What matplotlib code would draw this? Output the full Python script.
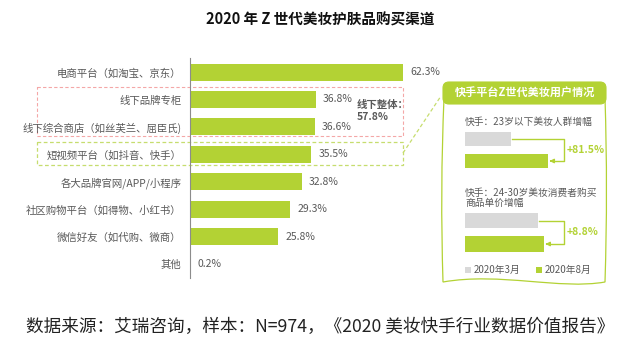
import matplotlib
matplotlib.use("Agg")
import matplotlib.pyplot as plt
from matplotlib.patches import FancyBboxPatch, Rectangle
from matplotlib.path import Path
from matplotlib.patches import PathPatch

plt.rcParams['font.family'] = ['Noto Sans CJK SC', 'DejaVu Sans']

# ---------------- data ----------------
categories = ["电商平台（如淘宝、京东）", "线下品牌专柜", "线下综合商店（如丝芙兰、屈臣氏)",
              "短视频平台（如抖音、快手）", "各大品牌官网/APP/小程序", "社区购物平台（如得物、小红书）",
              "微信好友（如代购、微商）", "其他"]
values = [62.3, 36.8, 36.6, 35.5, 32.8, 29.3, 25.8, 0.2]

panel_titles = ["快手：23岁以下美妆人群增幅", "快手：24-30岁美妆消费者购买\n商品单价增幅"]
panel_growth = [81.5, 8.8]          # % growth Mar -> Aug
panel_series = ["2020年3月", "2020年8月"]

title = "2020 年 Z 世代美妆护肤品购买渠道"
source = "数据来源：艾瑞咨询，样本：N=974，《2020 美妆快手行业数据价值报告》"

GREEN = "#b3d234"
GRAY = "#d9d9d9"
TXT = "#595959"

W, H = 640, 352
fig = plt.figure(figsize=(W / 100, H / 100), dpi=100)


def fx(x):
    return x / W


def fy(y):
    return 1 - y / H


# overlay axes in pixel coords (y downwards)
ov = fig.add_axes([0, 0, 1, 1])
ov.set_xlim(0, W)
ov.set_ylim(H, 0)
ov.axis("off")
ov.set_zorder(0)

# ---------------- main bar chart ----------------
left, top, wpx, hpx = 190, 58.3, 240, 219.4
ax = fig.add_axes([fx(left), fy(top + hpx), fx(wpx), hpx / H])
ax.set_zorder(2)
ax.patch.set_alpha(0)
ypos = list(range(len(categories)))
ax.barh(ypos, values, height=0.62, color=GREEN)
ax.set_xlim(0, wpx / 3.42)
ax.set_ylim(len(categories) - 0.5, -0.5)
ax.set_yticks(ypos)
ax.set_yticklabels(categories, fontsize=7.5, color=TXT)
ax.tick_params(axis="y", length=0, pad=6)
ax.set_xticks([])
for s in ["top", "right", "bottom"]:
    ax.spines[s].set_visible(False)
ax.spines["left"].set_color("#8c8c8c")
ax.spines["left"].set_linewidth(0.8)
for y, v in zip(ypos, values):
    ax.annotate(f"{v}%", (v, y), xytext=(5, 0), textcoords="offset points",
                va="center", ha="left", fontsize=7.5, color=TXT)

# dashed highlight boxes
ov.add_patch(Rectangle((37, 87), 366, 49, fill=False, ec="#f4a7a7", lw=0.8, ls=(0, (3, 2))))
ov.add_patch(Rectangle((37, 142), 366, 23, fill=False, ec="#c6dd6e", lw=0.9, ls=(0, (3, 2))))
ov.text(357, 111, "线下整体：\n57.8%", fontsize=7.5, color=TXT, fontweight="bold",
        va="center", ha="left", linespacing=1.15)
ov.plot([403, 441], [153, 96], color="#c6dd6e", lw=0.9, ls=(0, (3, 2)))

# ---------------- right panel ----------------
# wavy outline
verts = [(444, 98), (440, 190), (443, 282),
         (500, 272), (560, 290), (605, 282),
         (608, 190), (605, 98)]
codes = [Path.MOVETO, Path.CURVE3, Path.CURVE3, Path.CURVE4, Path.CURVE4, Path.CURVE4,
         Path.CURVE3, Path.CURVE3]
ov.add_patch(PathPatch(Path(verts, codes), fill=False, ec=GREEN, lw=0.9))
ov.add_patch(FancyBboxPatch((443, 82), 163, 22, boxstyle="round,pad=0,rounding_size=6",
                            fc=GREEN, ec=GREEN, lw=0.8))
ov.text(525, 93.5, "快手平台Z世代美妆用户情况", color="white", fontsize=8,
        fontweight="bold", ha="center", va="center")

# panel bar blocks
blocks = [
    dict(text_y=122, ax_top=128, ax_h=44, base_px=46),
    dict(text_y=198, ax_top=208.75, ax_h=47, base_px=73),
]
x0 = 465
axw = 110
for (t, g, b) in zip(panel_titles, panel_growth, blocks):
    ov.text(x0, b["text_y"], t, fontsize=7, color=TXT, va="center",
            ha="left", linespacing=1.1)
    pa = fig.add_axes([fx(x0), fy(b["ax_top"] + b["ax_h"]), fx(axw), b["ax_h"] / H])
    vals = [1.0, 1.0 + g / 100]
    scale = b["base_px"]
    pa.barh([0, 1], vals, height=0.64, color=[GRAY, GREEN])
    pa.set_xlim(0, axw / scale)
    pa.set_ylim(1.5, -0.5)
    pa.axis("off")
    pa.patch.set_alpha(0)
    # connector
    yc0 = b["ax_top"] + b["ax_h"] * 0.25
    yc1 = b["ax_top"] + b["ax_h"] * 0.75
    xe0 = x0 + vals[0] * scale
    xe1 = x0 + vals[1] * scale
    xr = 564
    ov.plot([xe0 + 1, xr, xr, xe1 + 5], [yc0, yc0, yc1, yc1], color=GREEN, lw=1)
    ov.annotate("", xy=(xe1 + 1, yc1), xytext=(xe1 + 6, yc1),
                arrowprops=dict(arrowstyle="-|>", color=GREEN, lw=1, mutation_scale=6))
    ov.text(xr + 3, (yc0 + yc1) / 2, f"+{g}%", color=GREEN, fontsize=7.5,
            fontweight="bold", va="center", ha="left")

# panel legend
for i, (lab, c) in enumerate(zip(panel_series, [GRAY, GREEN])):
    lx = 465 + i * 71
    ov.add_patch(Rectangle((lx, 267), 6, 6, fc=c, ec="none"))
    ov.text(lx + 9, 270, lab, fontsize=7, color=TXT, va="center", ha="left")

# ---------------- titles ----------------
fig.text(0.5, fy(20), title, ha="center", va="center", fontsize=10.5, fontweight="bold",
         color="#111111")
fig.text(fx(320), fy(327), source, ha="center", va="center", fontsize=12.7, color="#222222")

fig.savefig("out.png", dpi=100)
